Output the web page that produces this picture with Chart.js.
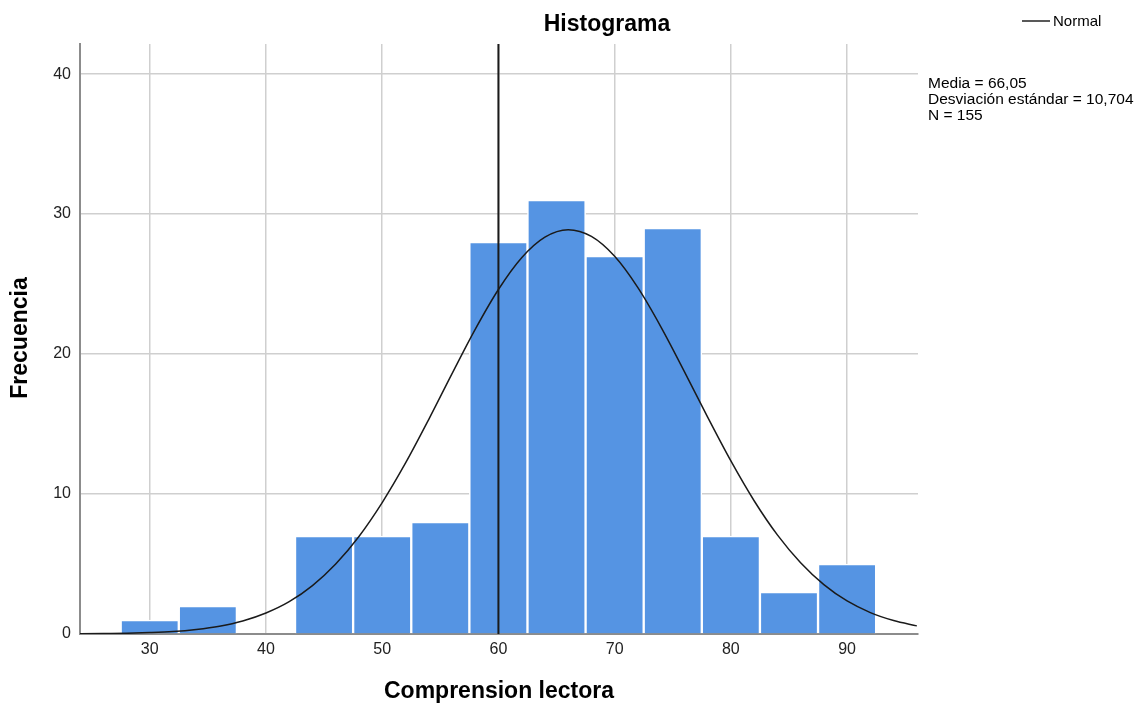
<!DOCTYPE html>
<html>
<head>
<meta charset="utf-8">
<script src="https://cdn.jsdelivr.net/npm/chart.js@4"></script>
<style>
  html, body { margin: 0; padding: 0; background: #ffffff; }
  #wrap { position: relative; width: 1142px; height: 704px; }
</style>
</head>
<body>
<div id="wrap"><canvas id="c" width="1142" height="704"></canvas></div>
<script>
// ---- Data ----
const binCenters = [30, 35, 40, 45, 50, 55, 60, 65, 70, 75, 80, 85, 90];
const frequencies = [1, 2, 0, 7, 7, 8, 28, 31, 27, 29, 7, 3, 5];
const curveX = [24, 26, 28, 30, 32, 34, 36, 38, 40, 42, 44, 46, 48, 50, 52, 54, 56, 58, 60, 62, 64, 66, 68, 70, 72, 74, 76, 78, 80, 82, 84, 86, 88, 90, 92, 94, 96];
const curveY = [0.01, 0.03, 0.05, 0.10, 0.18, 0.33, 0.56, 0.93, 1.50, 2.31, 3.46, 5.00, 6.97, 9.39, 12.20, 15.32, 18.58, 21.76, 24.61, 26.88, 28.35, 28.88, 28.40, 26.98, 24.74, 21.91, 18.75, 15.49, 12.36, 9.52, 7.08, 5.09, 3.53, 2.36, 1.53, 0.96, 0.58];
const refLineX = [60, 60];
const refLineY = [0, 42.15];
const xTicks = [30, 40, 50, 60, 70, 80, 90];
const yTicks = [0, 10, 20, 30, 40];
const xRange = [24, 96.1];
const yRange = [0, 42.15];
const chartTitle = 'Histograma';
const xTitle = 'Comprension lectora';
const yTitle = 'Frecuencia';
const legendLabel = 'Normal';
const statsLines = ['Media = 66,05', 'Desviación estándar = 10,704', 'N = 155'];

const FONT = '"Liberation Sans", Arial, sans-serif';

const textPlugin = {
  id: 'texts',
  afterDraw(chart) {
    const ctx = chart.ctx;
    const area = chart.chartArea;
    ctx.save();
    ctx.fillStyle = '#000';
    // title
    ctx.font = 'bold 23px ' + FONT;
    ctx.textAlign = 'center';
    ctx.textBaseline = 'middle';
    ctx.fillText(chartTitle, 607, 25);
    // x title
    ctx.fillText(xTitle, (area.left + area.right) / 2, 692);
    // y title
    ctx.save();
    ctx.translate(21, 338);
    ctx.rotate(-Math.PI / 2);
    ctx.fillText(yTitle, 0, 0);
    ctx.restore();
    // legend
    ctx.strokeStyle = '#222';
    ctx.lineWidth = 1.5;
    ctx.beginPath();
    ctx.moveTo(1022, 21);
    ctx.lineTo(1050, 21);
    ctx.stroke();
    ctx.font = '15px ' + FONT;
    ctx.textAlign = 'left';
    ctx.fillText(legendLabel, 1053, 22);
    // stats
    ctx.font = '15.5px ' + FONT;
    statsLines.forEach((s, i) => ctx.fillText(s, 928, 84 + i * 16));
    ctx.restore();
  }
};

new Chart(document.getElementById('c'), {
  type: 'bar',
  data: {
    datasets: [
      {
        type: 'line',
        data: curveX.map((x, i) => ({ x: x, y: curveY[i] })),
        borderColor: '#1a1a1a',
        borderWidth: 1.5,
        pointRadius: 0,
        cubicInterpolationMode: 'monotone',
        fill: false,
        order: 0
      },
      {
        type: 'line',
        data: refLineX.map((x, i) => ({ x: x, y: refLineY[i] })),
        borderColor: '#1a1a1a',
        borderWidth: 2,
        pointRadius: 0,
        fill: false,
        order: 1
      },
      {
        type: 'bar',
        data: binCenters.map((x, i) => ({ x: x, y: frequencies[i] })),
        backgroundColor: '#5594e3',
        borderColor: '#ffffff',
        borderWidth: 1.5,
        borderSkipped: 'bottom',
        barPercentage: 1,
        categoryPercentage: 1,
        order: 2
      }
    ]
  },
  options: {
    responsive: false,
    animation: false,
    devicePixelRatio: 1,
    layout: { padding: { left: 0, top: 44, right: 224, bottom: 0 } },
    plugins: { legend: { display: false }, tooltip: { enabled: false }, title: { display: false } },
    scales: {
      x: {
        type: 'linear',
        min: xRange[0],
        max: xRange[1],
        offset: false,
        afterBuildTicks: s => { s.ticks = xTicks.map(v => ({ value: v })); },
        afterFit: s => { s.height = 70; },
        ticks: { color: '#222', font: { family: FONT, size: 16 }, padding: 6, maxRotation: 0 },
        grid: { color: '#cfcfcf', lineWidth: 1.5, drawTicks: false, offset: false },
        border: { color: '#8c8c8c', width: 2 }
      },
      y: {
        min: yRange[0],
        max: yRange[1],
        afterBuildTicks: s => { s.ticks = yTicks.map(v => ({ value: v })); },
        afterFit: s => { s.width = 80; },
        ticks: { color: '#222', font: { family: FONT, size: 16 }, padding: 9 },
        grid: { color: '#cfcfcf', lineWidth: 1.5, drawTicks: false },
        border: { color: '#8c8c8c', width: 2 }
      }
    }
  },
  plugins: [textPlugin]
});
</script>
</body>
</html>
